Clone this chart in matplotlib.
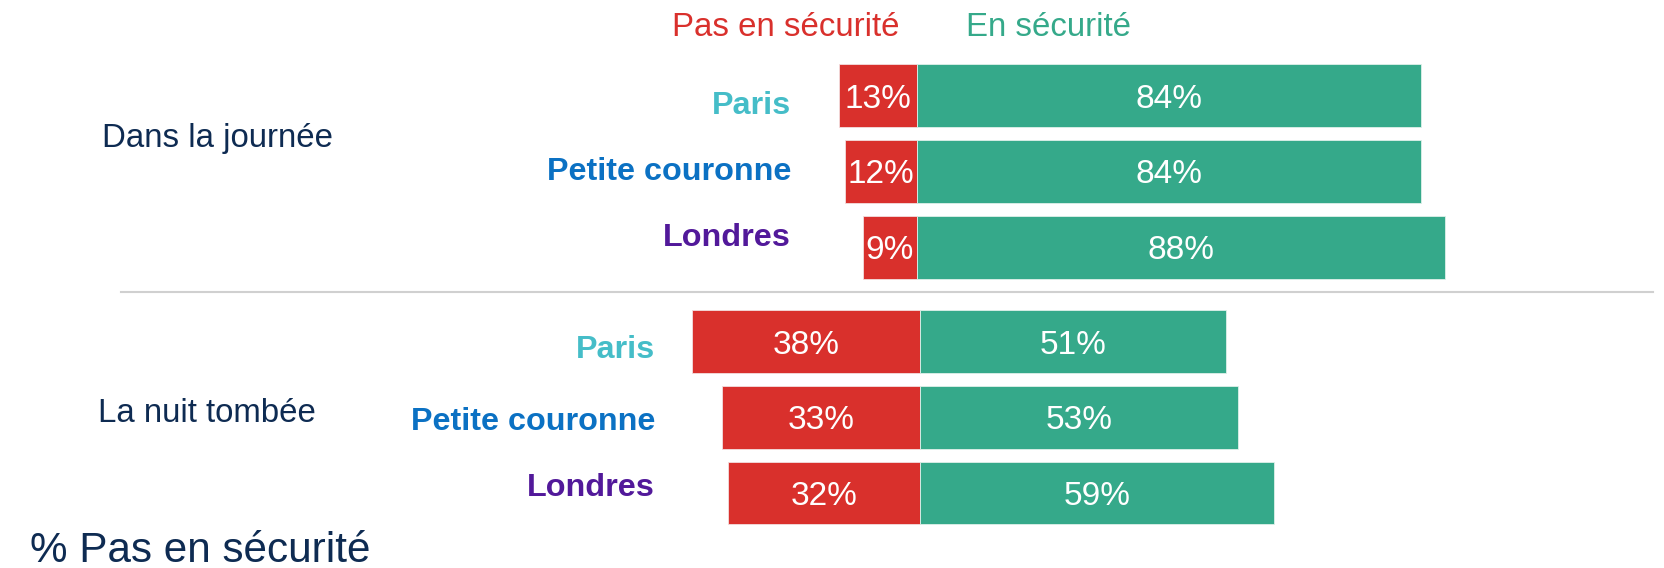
import matplotlib
matplotlib.use("Agg")
import matplotlib.pyplot as plt
from matplotlib import font_manager as fm

# ---------------- data ----------------
cities = ["Paris", "Petite couronne", "Londres"]
periods = ["Dans la journée", "La nuit tombée"]
unsafe_day = [13, 12, 9]
safe_day = [84, 84, 88]
unsafe_night = [38, 33, 32]
safe_night = [51, 53, 59]
header_unsafe = "Pas en sécurité"
header_safe = "En sécurité"
note = "% Pas en sécurité"

# ---------------- style ----------------
RED = "#D9302C"
GREEN = "#35A98A"
NAVY = "#0E2B52"
CITY_COLORS = ["#45BDC8", "#0B71C3", "#52199A"]
GRID = "#D0D0D0"

names = {f.name for f in fm.fontManager.ttflist}
REG = "Liberation Sans" if "Liberation Sans" in names else "DejaVu Sans"
if "Liberation Sans Narrow" in names:
    NARROW = "Liberation Sans Narrow"
    FS = dict(num=26, city=27.5, head=28, period=28)
else:
    NARROW = REG
    FS = dict(num=24, city=23.3, head=23.8, period=23.8)

W, H = 1665, 568
fig = plt.figure(figsize=(W / 100, H / 100), dpi=100)


def fx(px):
    return px / W


def fy(py):
    return 1 - py / H


PX_PER_PCT = 6.0


def panel(center_px, top_px, bottom_px, unsafe, safe):
    ax = fig.add_axes([0, fy(bottom_px), 1, (bottom_px - top_px) / H])
    ax.set_xlim(-center_px / PX_PER_PCT, (W - center_px) / PX_PER_PCT)
    n = len(unsafe)
    ax.set_ylim(n - 0.5, -0.5)
    y = list(range(n))
    ax.barh(y, [-v for v in unsafe], height=0.826, color=RED,
            edgecolor="#f3dede", linewidth=0.6)
    ax.barh(y, safe, height=0.826, color=GREEN,
            edgecolor="#dff0ea", linewidth=0.6)
    fs = FS["num"]
    for i, v in enumerate(unsafe):
        ax.annotate(f"{v}%", xy=(-v / 2, i), xytext=(0, -0.358 * fs),
                    textcoords="offset points", ha="center", va="baseline",
                    color="white", fontsize=fs, family=NARROW)
    for i, v in enumerate(safe):
        ax.annotate(f"{v}%", xy=(v / 2, i), xytext=(0, -0.358 * fs),
                    textcoords="offset points", ha="center", va="baseline",
                    color="white", fontsize=fs, family=NARROW)
    ax.axis("off")
    return ax


panel(916.7, 57.8, 285.2, unsafe_day, safe_day)
panel(920.3, 303.9, 530.7, unsafe_night, safe_night)

# headers
fig.text(fx(900), fy(36), header_unsafe, ha="right", va="baseline",
         color=RED, fontsize=FS["head"], family=NARROW)
fig.text(fx(966), fy(36), header_safe, ha="left", va="baseline",
         color=GREEN, fontsize=FS["head"], family=NARROW)

# city labels (right aligned), per panel
top_label = dict(x=791, baselines=[113.5, 180.0, 245.5])
bot_label = dict(x=655, baselines=[357.5, 429.5, 496.5])
for spec in (top_label, bot_label):
    for city, col, b in zip(cities, CITY_COLORS, spec["baselines"]):
        fig.text(fx(spec["x"]), fy(b), city, ha="right", va="baseline",
                 color=col, fontsize=FS["city"], fontweight="bold", family=NARROW)

# period labels
fig.text(fx(102), fy(146.7), periods[0], ha="left", va="baseline",
         color=NAVY, fontsize=FS["period"], family=NARROW)
fig.text(fx(98), fy(422), periods[1], ha="left", va="baseline",
         color=NAVY, fontsize=FS["period"], family=NARROW)

# separator
fig.add_artist(plt.Line2D([fx(121), fx(1653)], [fy(292), fy(292)],
                          color=GRID, linewidth=1.5, transform=fig.transFigure))

# note
fig.text(fx(30), fy(562.3), note, ha="left", va="baseline",
         color=NAVY, fontsize=30.4, family=REG)

fig.savefig("out.png", dpi=100, facecolor="white")
